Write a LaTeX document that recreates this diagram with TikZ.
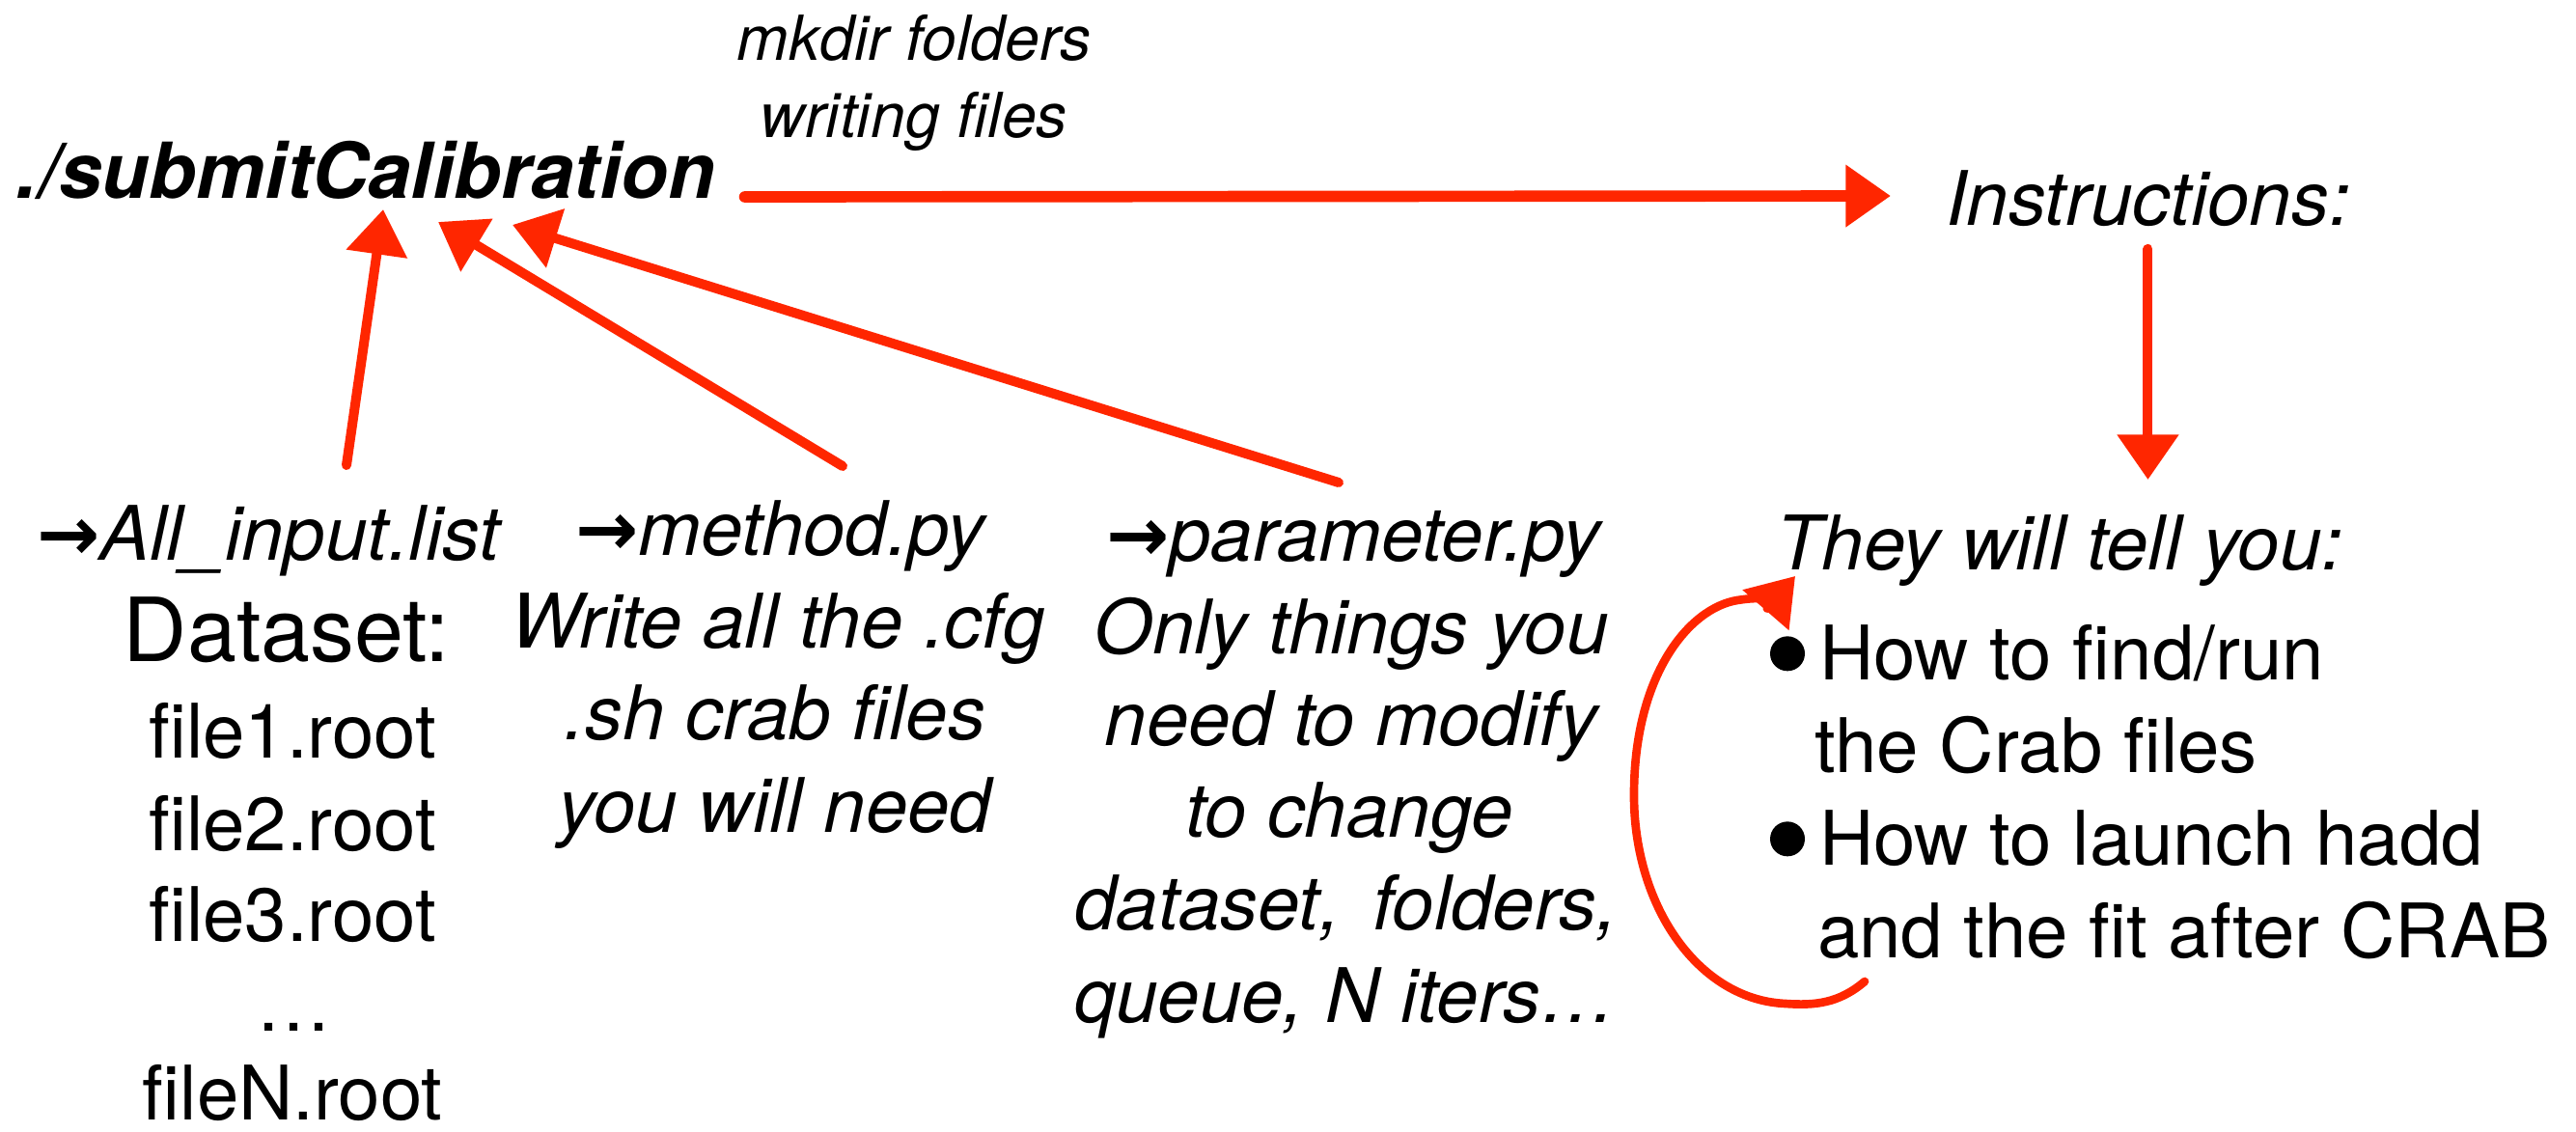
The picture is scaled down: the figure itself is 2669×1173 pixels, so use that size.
\documentclass[tikz,border=0pt]{standalone}
\usepackage{fontspec}
\setmainfont{TeX Gyre Heros}
\newfontfamily\arrowfont{DejaVu Sans}
\usetikzlibrary{arrows.meta,calc}
\definecolor{inkred}{RGB}{255,38,0}
% small arrow glyph placed before file names
\newcommand{\filearrow}{{\arrowfont\bfseries →}}
% large round bullet hanging to the left of an item
\newcommand{\itembullet}{\llap{\raisebox{2.6pt}{\tikz\fill (0,0) circle (5.4pt);}\kern4.5pt}}

\begin{document}
\begin{tikzpicture}[x=0.3pt,y=-0.3pt,
  lbl/.style={inner sep=0pt, outer sep=0pt, anchor=base},
  up/.style={font=\fontsize{23.4}{28}\selectfont},
  it/.style={font=\fontsize{23.4}{28}\selectfont\itshape},
  note/.style={font=\fontsize{19.3}{23}\selectfont\itshape},
  stroke/.style={draw=inkred, line width=3pt, line cap=round,
    -{Triangle[length=14pt,width=18.5pt]}},
]
% canvas
\fill[white] (0,0) rectangle (2669,1173);
\path[use as bounding box] (0,0) rectangle (2669,1173);

% command and its outputs
\node[lbl, anchor=base west, font=\fontsize{24}{28}\selectfont\bfseries\itshape]
  (submit) at (17,205) {./submitCalibration};
\node[lbl, note] (mk1) at (947,62) {mkdir folders};
\node[lbl, note] (mk2) at (947,142) {writing files};
\node[lbl, it, anchor=base west] (instr) at (2016,233) {Instructions:};

% input list column
\node[lbl, up, anchor=base west] (inlist) at (38,580) {\filearrow\textit{All\_input.list}};
\node[lbl, anchor=base west, font=\fontsize{27.5}{32}\selectfont] (dset) at (128,685) {Dataset:};
\node[lbl, up] (f1) at (303,785) {file1.root};
\node[lbl, up] (f2) at (303,881) {file2.root};
\node[lbl, up] (f3) at (303,975) {file3.root};
\node[lbl, up] (fdots) at (304,1068) {…};
\node[lbl, up] (fN) at (303,1160) {fileN.root};

% method column
\node[lbl, up] (m1) at (810,575) {\filearrow\textit{method.py}};
\node[lbl, it] (m2) at (806,671) {Write all the .cfg};
\node[lbl, it] (m3) at (803,766) {.sh crab files};
\node[lbl, it] (m4) at (803,862) {you will need};

% parameter column
\node[lbl, up] (p1) at (1404,581) {\filearrow\textit{parameter.py}};
\node[lbl, it] (p2) at (1400,677) {Only things you};
\node[lbl, it] (p3) at (1400,772) {need to modify};
\node[lbl, it] (p4) at (1398,867) {to change};
\node[lbl, it] (p5) at (1395,963) {dataset,\hspace{0.15em} folders,};
\node[lbl, it] (p6) at (1394,1059) {queue, N iters…};

% instructions column
\node[lbl, it, anchor=base west] (they) at (1840,590) {They will tell you:};
\node[lbl, up, anchor=base west] (b1) at (1885,704) {\itembullet How to find/run};
\node[lbl, up, anchor=base west] (b2) at (1880,800) {the Crab files};
\node[lbl, up, anchor=base west] (b3) at (1885,896) {\itembullet How to launch hadd};
\node[lbl, up, anchor=base west] (b4) at (1883,992) {and the fit after CRAB};

% connectors
\draw[stroke, line width=3.5pt] ($(submit.base east)+(30,-1)$) -- ($(instr.base west)+(-57,-30)$);
\draw[stroke] ($(instr.base)+(0,25)$) -- ($(instr.base)+(0,264)$);
\draw[stroke] ($(inlist.base west)+(321,-98)$) -- ($(submit.base west)+(380,12)$);
\draw[stroke] ($(m1.base)+(63,-92)$) -- ($(submit.base west)+(437,25)$);
\draw[stroke] ($(p1.base)+(-17,-81)$) -- ($(submit.base west)+(514,28)$);
\draw[stroke, line width=2.6pt]
  ($(b4.base west)+(49,25)$) .. controls (1905,1040) and (1880,1042) .. (1850,1040)
  .. controls (1760,1036) and (1694,940) .. (1693,827)
  .. controls (1692,700) and (1750,630) .. (1800,622)
  .. controls (1825,618) and (1840,620) .. ($(they.base west)+(20,7)$);
\end{tikzpicture}
\end{document}
